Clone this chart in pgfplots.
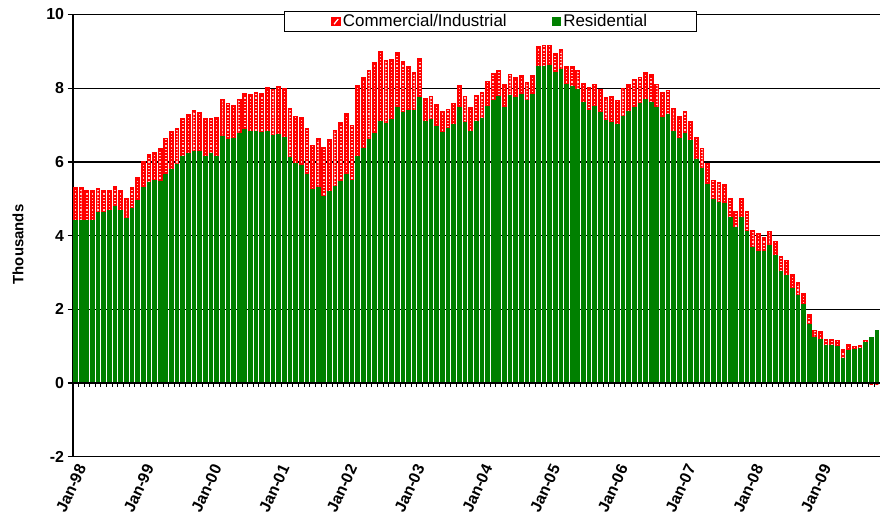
\documentclass[border=0pt]{standalone}
\usepackage{fontspec}
\setmainfont{Liberation Sans}
\usepackage{pgfplots}
\pgfplotsset{compat=1.18}
\usepackage{pgfplotstable}
\usetikzlibrary{patterns.meta}
\definecolor{resgreen}{RGB}{0,128,0}
\definecolor{comred}{RGB}{255,0,0}
\pgfplotstableread{
x res com
0 4.40 0.89
1 4.40 0.89
2 4.40 0.82
3 4.40 0.82
4 4.61 0.65
5 4.61 0.61
6 4.66 0.56
7 4.77 0.55
8 4.68 0.54
9 4.45 0.55
10 4.72 0.57
11 4.95 0.62
12 5.30 0.69
13 5.44 0.75
14 5.48 0.76
15 5.46 0.89
16 5.64 1.00
17 5.79 1.03
18 5.92 0.98
19 6.14 1.03
20 6.21 1.08
21 6.27 1.11
22 6.27 1.06
23 6.15 1.02
24 6.21 0.96
25 6.15 1.05
26 6.67 1.02
27 6.61 0.97
28 6.64 0.89
29 6.76 0.93
30 6.87 0.98
31 6.81 1.01
32 6.83 1.04
33 6.79 1.06
34 6.81 1.19
35 6.72 1.24
36 6.74 1.31
37 6.65 1.33
38 6.11 1.33
39 5.95 1.28
40 5.90 1.30
41 5.66 1.23
42 5.24 1.20
43 5.31 1.31
44 5.06 1.31
45 5.20 1.40
46 5.33 1.52
47 5.45 1.60
48 5.66 1.64
49 5.48 1.51
50 6.14 1.93
51 6.35 1.92
52 6.60 1.88
53 6.76 1.94
54 7.08 1.92
55 7.03 1.72
56 7.14 1.62
57 7.46 1.50
58 7.33 1.38
59 7.40 1.17
60 7.38 1.04
61 7.73 1.07
62 7.08 0.63
63 7.15 0.63
64 6.96 0.60
65 6.79 0.58
66 6.90 0.52
67 7.00 0.58
68 7.46 0.61
69 7.06 0.72
70 6.82 0.66
71 7.10 0.69
72 7.17 0.70
73 7.50 0.68
74 7.67 0.72
75 7.76 0.71
76 7.46 0.63
77 7.80 0.57
78 7.73 0.55
79 7.82 0.51
80 7.67 0.49
81 7.82 0.51
82 8.57 0.54
83 8.59 0.57
84 8.62 0.54
85 8.41 0.52
86 8.50 0.53
87 8.08 0.51
88 8.03 0.54
89 7.95 0.53
90 7.60 0.53
91 7.40 0.61
92 7.49 0.61
93 7.33 0.62
94 7.11 0.63
95 7.07 0.69
96 7.01 0.66
97 7.22 0.77
98 7.36 0.72
99 7.47 0.75
100 7.57 0.72
101 7.68 0.75
102 7.61 0.74
103 7.47 0.63
104 7.19 0.69
105 7.27 0.67
106 6.81 0.64
107 6.63 0.59
108 6.77 0.59
109 6.56 0.54
110 6.07 0.58
111 5.82 0.54
112 5.39 0.56
113 4.96 0.54
114 4.90 0.52
115 4.86 0.52
116 4.48 0.52
117 4.20 0.45
118 4.48 0.52
119 4.10 0.55
120 3.67 0.45
121 3.57 0.47
122 3.56 0.37
123 3.71 0.40
124 3.44 0.40
125 3.02 0.40
126 2.92 0.40
127 2.55 0.39
128 2.36 0.36
129 2.12 0.31
130 1.59 0.25
131 1.24 0.18
132 1.18 0.21
133 1.01 0.16
134 1.00 0.17
135 0.97 0.18
136 0.66 0.24
137 0.88 0.15
138 0.90 0.09
139 0.94 0.06
140 1.08 0.07
141 1.23 -0.05
142 1.41 -0.05
}\data
\begin{document}
\begin{tikzpicture}
\useasboundingbox (0,0) rectangle (880bp,522bp);
\begin{axis}[
  at={(73bp,65.3bp)}, anchor=south west,
  scale only axis, width=807bp, height=442.2bp,
  xmin=-0.45, xmax=142.55, ymin=-2, ymax=10,
  axis lines*=left,
  axis line style={black, line width=1.3bp},
  ytick={-2,0,2,4,6,8,10},
  ymajorgrids, grid style={black, line width=1.3bp},
  xtick={0,12,...,132},
  xticklabels={Jan-98,Jan-99,Jan-00,Jan-01,Jan-02,Jan-03,Jan-04,Jan-05,Jan-06,Jan-07,Jan-08,Jan-09},
  xtick style={draw=none},
  ytick style={black, line width=1.3bp},
  tick align=outside, major tick length=5.5bp,
  /pgf/number format/assume math mode=true,
  yticklabel style={font=\fontsize{16}{19}\selectfont\bfseries},
  xticklabel style={font=\fontsize{16}{19}\selectfont\bfseries, rotate=65, anchor=east, xshift=3bp, yshift=-7bp},
  every axis y label/.style={at={(rel axis cs:-0.068,0.48)}, rotate=90, anchor=center, font=\fontsize{15}{18}\selectfont\bfseries},
  ylabel={Thousands},
  legend columns=2,
  legend style={at={(0.517,0.984)}, anchor=center, draw=black, line width=1bp, fill=white,
    font=\fontsize{17}{20}\selectfont, inner xsep=47bp, inner ysep=1bp,
    nodes={inner sep=2bp},
    /tikz/every even column/.append style={column sep=43bp}},
]
\addplot[ybar, bar shift=0pt, bar width=0.55, fill=comred!22, draw=comred, line width=1.6bp,
  postaction={pattern={Lines[angle=0,distance=3.2bp,line width=1.9bp]}, pattern color=comred},
  legend image code/.code={\fill[comred] (0bp,-4bp) rectangle (8bp,4bp); \draw[white, line width=1bp] (2bp,-2.5bp) -- (6bp,2.5bp);}]
  table[x=x, y expr={\thisrow{res}+max(\thisrow{com},0)}] {\data};
\addplot[ybar, bar shift=0pt, bar width=0.55, fill=resgreen, draw=resgreen, line width=1.6bp,
  legend image code/.code={\fill[resgreen] (0bp,-4bp) rectangle (8bp,4bp);}]
  table[x=x, y=res] {\data};
\addplot[ybar, bar shift=0pt, bar width=0.55, fill=comred, draw=none, forget plot]
  table[x=x, y expr={min(\thisrow{com},0)}] {\data};
\draw[black, line width=1.3bp] (axis cs:-0.45,0) -- (axis cs:142.55,0);
\pgfplotsinvokeforeach{0,...,142}{\draw[black, line width=1bp] ([xshift=-2.82bp]axis cs:#1,0) -- ([xshift=-2.82bp,yshift=-4bp]axis cs:#1,0);}
\legend{Commercial/Industrial, Residential}
\end{axis}
\end{tikzpicture}
\end{document}
